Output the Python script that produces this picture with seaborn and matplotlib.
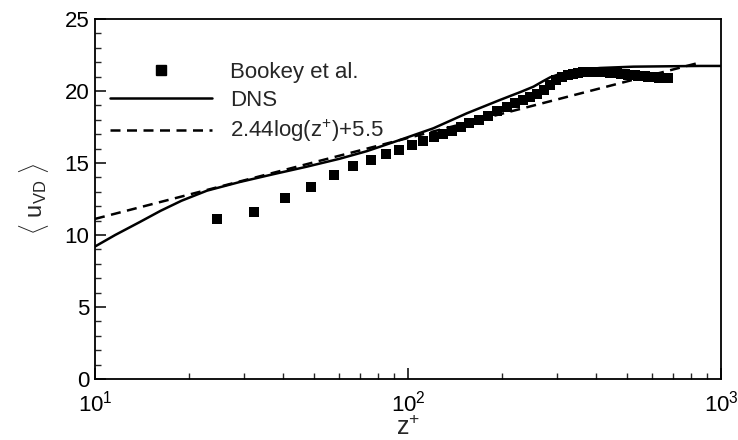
import numpy as np
import pandas as pd
import matplotlib
matplotlib.use("Agg")
import matplotlib.pyplot as plt
import seaborn as sns
from matplotlib.ticker import MultipleLocator, LogLocator, NullFormatter
from matplotlib.lines import Line2D

# Experimental mean velocity (van Driest transformed), Bookey et al.
bookey_z = [24.5, 32.1, 40.5, 49.1, 58.2, 66.9, 76.3, 85.1, 93.5, 102.8,
            111.9, 121.1, 129.7, 138, 147.3, 157, 169, 180.6, 192.9, 206.7,
            219.8, 233, 246, 259, 272, 285, 298, 311, 324, 337, 350, 363,
            376, 389, 402, 415, 428, 441, 454, 467, 480, 493, 506, 519, 532,
            545, 558, 571, 584, 597, 610, 623, 636, 649, 662, 675]
bookey_u = [11.09, 11.58, 12.55, 13.31, 14.15, 14.77, 15.2, 15.6, 15.9, 16.25,
            16.55, 16.8, 17.03, 17.24, 17.5, 17.76, 18.0, 18.28, 18.6, 18.9,
            19.2, 19.4, 19.6, 19.8, 20.05, 20.4, 20.75, 20.95, 21.1, 21.2, 21.28, 21.32,
            21.34, 21.35, 21.34, 21.32, 21.3, 21.27, 21.24, 21.22, 21.19, 21.16, 21.13, 21.11, 21.09,
            21.07, 21.05, 21.02, 21.0, 20.98, 20.96, 20.94, 20.92, 20.9, 20.88, 20.87]

# DNS profile
dns_z = [10, 11.6, 13.9, 16.2, 18.9, 22.8, 29.0, 37.1, 47.4, 60.6, 73.8, 94.2,
         120.5, 154.1, 196.8, 230, 251.6, 270, 284.6, 300, 322, 360, 411, 525,
         857, 1000]
dns_u = [9.2, 10.0, 10.9, 11.68, 12.38, 13.08, 13.68, 14.22, 14.74, 15.3, 15.82, 16.6,
         17.41, 18.45, 19.38, 19.95, 20.30, 20.68, 20.95, 21.12, 21.28, 21.47, 21.6, 21.69,
         21.74, 21.74]

# Log law: 2.44 ln(z+) + 5.5
kappa_inv = 2.44
log_b = 5.5
loglaw_z = np.geomspace(10, 850, 200)
loglaw_u = kappa_inv * np.log(loglaw_z) + log_b

sns.set_theme(style="ticks")
plt.rcParams["font.family"] = ["Liberation Sans", "DejaVu Sans"]
plt.rcParams["mathtext.fontset"] = "custom"
plt.rcParams["mathtext.rm"] = "Liberation Sans"
plt.rcParams["mathtext.it"] = "Liberation Sans"
plt.rcParams["mathtext.bf"] = "Liberation Sans:bold"

fig = plt.figure(figsize=(7.38, 4.40), dpi=100)
ax = fig.add_axes([95 / 738, 1 - 379 / 440, (721 - 95) / 738, (379 - 19) / 440])

df_b = pd.DataFrame({"z": bookey_z, "u": bookey_u})
df_d = pd.DataFrame({"z": dns_z, "u": dns_u})
df_l = pd.DataFrame({"z": loglaw_z, "u": loglaw_u})

dash = (0, (4, 2.6))
sns.lineplot(data=df_l, x="z", y="u", ax=ax, color="black", lw=1.8,
             linestyle=dash, sort=False, estimator=None)
sns.lineplot(data=df_d, x="z", y="u", ax=ax, color="black", lw=1.8,
             sort=False, estimator=None)
sns.scatterplot(data=df_b, x="z", y="u", ax=ax, color="black", marker="s",
                s=42, linewidth=0, zorder=3)

ax.set_xscale("log")
ax.set_xlim(10, 1000)
ax.set_ylim(0, 25)
ax.yaxis.set_major_locator(MultipleLocator(5))
ax.yaxis.set_minor_locator(MultipleLocator(1))
ax.xaxis.set_major_locator(LogLocator(base=10, numticks=10))
ax.xaxis.set_minor_locator(LogLocator(base=10, subs=np.arange(2, 10), numticks=20))
ax.xaxis.set_minor_formatter(NullFormatter())

for s in ax.spines.values():
    s.set_linewidth(1.3)
    s.set_color("black")
ax.tick_params(axis="both", which="major", direction="in", length=8, width=1.1,
               labelsize=16, colors="black", pad=4)
ax.tick_params(axis="x", which="major", pad=8)
ax.tick_params(axis="both", which="minor", direction="in", length=4.5, width=1.0)

ax.set_xlabel(r"z$^{+}$", fontsize=18, labelpad=0)
ax.set_ylabel(r"$\langle\ \mathregular{u}_{\mathregular{VD}}\ \rangle$", fontsize=17, labelpad=10)

handles = [
    Line2D([], [], color="black", marker="s", linestyle="none", markersize=6.5),
    Line2D([], [], color="black", lw=1.8),
    Line2D([], [], color="black", lw=1.8, linestyle=dash),
]
labels = ["Bookey et al.", "DNS", r"2.44log(z$^{+}$)+5.5"]
ax.legend(handles, labels, loc="upper left", bbox_to_anchor=(0.01, 0.906),
          frameon=False, fontsize=16, handlelength=4.6, handletextpad=0.8,
          labelspacing=0.32, borderaxespad=0)

fig.savefig("out.png", dpi=100)
